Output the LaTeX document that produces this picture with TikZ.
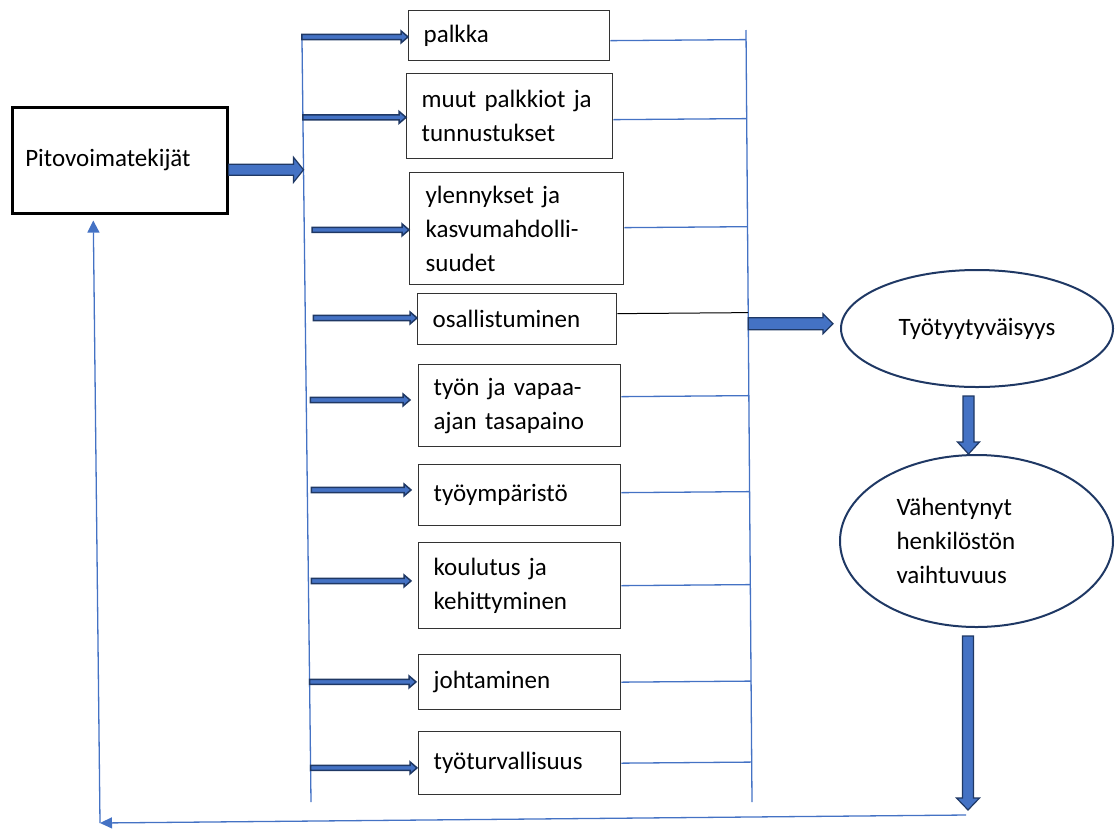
\documentclass[tikz,border=0pt]{standalone}
\usepackage{fontspec}
\setmainfont{Carlito}
\usepackage{tikz}
\usetikzlibrary{arrows.meta,calc,shapes.geometric,positioning}
\definecolor{lineblue}{HTML}{4472C4}
\definecolor{arrownavy}{HTML}{1F3864}
\tikzset{
  arrshaft/.store in=\arrshaft, arrhead/.store in=\arrhead, arrtip/.store in=\arrtip,
  blockarrow/.style={draw=arrownavy, fill=lineblue, line width=1.2pt, line join=miter},
  rblock/.style={blockarrow, to path={let \p1=(\tikztostart), \p2=(\tikztotarget) in
    (\x1,\y1+\arrshaft) -- (\x2-\arrtip,\y1+\arrshaft) -- (\x2-\arrtip,\y1+\arrhead) -- (\x2,\y1)
    -- (\x2-\arrtip,\y1-\arrhead) -- (\x2-\arrtip,\y1-\arrshaft) -- (\x1,\y1-\arrshaft) -- cycle}},
  dblock/.style={blockarrow, to path={let \p1=(\tikztostart), \p2=(\tikztotarget) in
    (\x1-\arrshaft,\y1) -- (\x1-\arrshaft,\y2+\arrtip) -- (\x1-\arrhead,\y2+\arrtip) -- (\x1,\y2)
    -- (\x1+\arrhead,\y2+\arrtip) -- (\x1+\arrshaft,\y2+\arrtip) -- (\x1+\arrshaft,\y1) -- cycle}},
  smallarrow/.style={rblock, arrshaft=2.6pt, arrhead=6pt, arrtip=7pt, line width=1.5pt},
  vline/.style={draw=lineblue, line width=1.3pt},
  factor/.style 2 args={draw=black!80, line width=1.3pt, anchor=north west, align=left,
    inner xsep=15pt, inner ysep=0pt, text width=#1, minimum height=#2},
  outcome/.style={ellipse, draw=arrownavy, line width=2pt, inner sep=0pt}
}

\begin{document}
\begin{tikzpicture}[x=1pt,y=-1pt,font=\fontsize{25}{34}\selectfont]
\useasboundingbox (0,0) rectangle (1115,828);

\node[draw, line width=2.6pt, anchor=north west, inner xsep=13pt, text width=189pt,
      minimum height=106pt, align=left] (pito) at (11,106) {Pitovoimatekijät};

\node[factor={171pt}{50pt}] (palkka) at (408,10) {\strut palkka};
\node[factor={176pt}{85pt}] (palkkiot) at (406,73) {muut palkkiot ja\\tunnustukset};
\node[factor={182pt}{112pt}, inner xsep=16pt] (ylennys) at (409,172) {ylennykset ja\\kasvumahdolli-\\suudet};
\node[factor={169pt}{51pt}] (osallis) at (417,293) {osallistuminen};
\node[factor={172pt}{82pt}] (tasapaino) at (418,364) {työn ja vapaa-\\ajan tasapaino};
\node[factor={172pt}{61pt}] (ymparisto) at (418,464) {työympäristö};
\node[factor={172pt}{86pt}] (koulutus) at (418,542) {koulutus ja\\kehittyminen};
\node[factor={172pt}{55pt}] (johtaminen) at (418,654) {johtaminen};
\node[factor={172pt}{63pt}] (turva) at (418,731) {työturvallisuus};

\node[outcome, minimum width=272pt, minimum height=117pt] (tyytyv) at (977,328.5) {Työtyytyväisyys};
\node[outcome, minimum width=273pt, minimum height=172pt, text width=160pt, align=left]
     (vaihtuv) at (976.5,541) {Vähentynyt\\henkilöstön\\vaihtuvuus};

\coordinate (ltop) at (302,40);
\coordinate (lbot) at (311,802);
\coordinate (rtop) at (746,30);
\coordinate (rbot) at (752,802);
\coordinate (retr) at (966,815);
\coordinate (corner) at (100,823);

\draw[vline] (ltop) -- (lbot);
\draw[vline] (rtop) -- (rbot);

\draw[rblock, arrshaft=5.5pt, arrhead=12.5pt, arrtip=10pt]
  ([yshift=-9.5pt]pito.east) to ($(ltop)!([yshift=-9.5pt]pito.east)!(lbot)$);

\foreach \b/\dy/\dx/\gap in {palkka/0/0/0, palkkiot/0/0/0, ylennys/0/8/0, osallis/2.5/8/0,
    tasapaino/7/4/8, ymparisto/6.5/4/7, koulutus/6/3/7, johtaminen/1.5/0/2, turva/-3.5/0/1}
{
  \draw[smallarrow] ($(ltop)!([yshift=\dy pt]\b.west)!(lbot) + (\dx,0)$)
    to ([xshift=-\gap pt,yshift=\dy pt]\b.west);
}

\foreach \b/\dy in {palkka/-5, palkkiot/-3.5, ylennys/1, tasapaino/9, ymparisto/2.5,
    koulutus/0, johtaminen/0, turva/0}
{
  \draw[vline] ([yshift=\dy pt]\b.east) -- ($(rtop)!([yshift=\dy pt]\b.east)!(rbot)$);
}
\draw[black, line width=1pt] ([yshift=5.5pt]osallis.east) -- ($(rtop)!([yshift=5.5pt]osallis.east)!(rbot)$);

\draw[rblock, arrshaft=6pt, arrhead=10pt, arrtip=10pt]
  ($(rtop)!([yshift=5.5pt]tyytyv.west)!(rbot)$) to ([xshift=-7pt,yshift=5.5pt]tyytyv.west);
\draw[dblock, arrshaft=5.5pt, arrhead=11pt, arrtip=12pt]
  ([xshift=-8.5pt,yshift=-8pt]tyytyv.south) to ([xshift=-8.5pt]vaihtuv.north);
\draw[dblock, arrshaft=5.5pt, arrhead=11.5pt, arrtip=12pt]
  ([xshift=-8.5pt,yshift=-8pt]vaihtuv.south) to ([yshift=5pt]retr);

\draw[vline, -{Triangle[length=12pt,width=11pt]}] (retr) -- (corner);
\draw[vline, -{Triangle[length=12pt,width=12pt]}] (corner) -- ([xshift=-26.5pt,yshift=-6pt]pito.south);

\end{tikzpicture}
\end{document}
